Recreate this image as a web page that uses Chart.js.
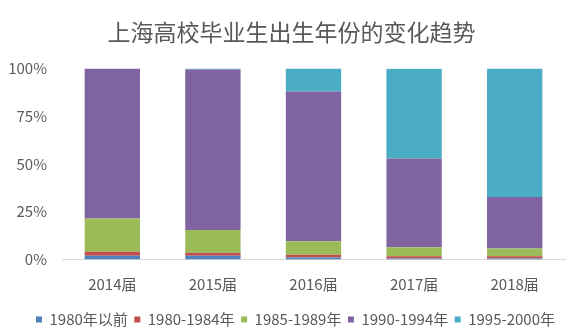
<!DOCTYPE html>
<html>
<head>
<meta charset="utf-8">
<script src="https://cdn.jsdelivr.net/npm/chart.js@4/dist/chart.umd.min.js"></script>
<style>
  html, body { margin: 0; padding: 0; background: #fff; }
  #wrap { width: 580px; height: 333px; }
</style>
</head>
<body>
<div id="wrap"><canvas id="chart"></canvas></div>
<script>
// data (percent of graduates per cohort)
const years = ['2014届', '2015届', '2016届', '2017届', '2018届'];
const seriesNames = ['1980年以前', '1980-1984年', '1985-1989年', '1990-1994年', '1995-2000年'];
const before1980 = [2, 2, 1, 0.5, 0.5];
const born8084 = [2, 1.5, 1.5, 1.2, 1.2];
const born8589 = [17.5, 12, 7, 4.7, 4];
const born9094 = [78.5, 84, 78.5, 46.5, 27];
const born9500 = [0, 0.5, 12, 47, 67.3];
const yTicks = [0, 25, 50, 75, 100];

const colors = ['#4F81BD', '#C0504D', '#9BBB59', '#8064A2', '#4BACC6'];
const values = [before1980, born8084, born8589, born9094, born9500];

const font = "'Noto Sans CJK SC', 'Noto Sans', sans-serif";
const grey = '#595959';

// nudge title and legend a bit to the right, like the original
const shiftPlugin = {
    id: 'shiftBoxes',
    afterLayout: function(chart) {
        chart.legend.left += 10;
        chart.legend.right += 10;
        chart.titleBlock.left += 6;
        chart.titleBlock.right += 6;
    }
};

const ctx = document.getElementById('chart').getContext('2d');
const chart = new Chart(ctx, {
    type: 'bar',
    data: {
        labels: years,
        datasets: seriesNames.map((name, i) => ({
            label: name,
            data: values[i],
            backgroundColor: colors[i],
            borderWidth: 0,
            barPercentage: 0.55,
            categoryPercentage: 1,
        })),
    },
    options: {
        responsive: true,
        maintainAspectRatio: false,
        animation: false,
        layout: {
            padding: { left: 6, right: 15, top: 0, bottom: -4 },
        },
        plugins: {
            title: {
                display: true,
                text: '上海高校毕业生出生年份的变化趋势',
                color: grey,
                font: { family: font, size: 23, weight: 'normal' },
                padding: { top: 18, bottom: 23 },
            },
            legend: {
                position: 'bottom',
                labels: {
                    color: grey,
                    boxWidth: 6,
                    boxHeight: 6,
                    padding: 6.5,
                    font: { family: font, size: 15 },
                },
            },
            tooltip: { enabled: false },
        },
        scales: {
            x: {
                stacked: true,
                grid: { display: false },
                border: { color: '#d9d9d9' },
                afterFit: (axis) => { axis.height += 4; },
                ticks: {
                    color: grey,
                    font: { family: font, size: 15 },
                    padding: 8,
                },
            },
            y: {
                stacked: true,
                min: 0,
                max: 100,
                afterBuildTicks: (axis) => {
                    axis.ticks = yTicks.map((v) => ({ value: v }));
                },
                afterFit: (axis) => { axis.width = 56; },
                grid: { display: false },
                border: { display: false },
                ticks: {
                    color: grey,
                    font: { family: font, size: 15 },
                    padding: 7,
                    callback: (v) => v + '%',
                },
            },
        },
    },
    plugins: [shiftPlugin],
});
</script>
</body>
</html>
